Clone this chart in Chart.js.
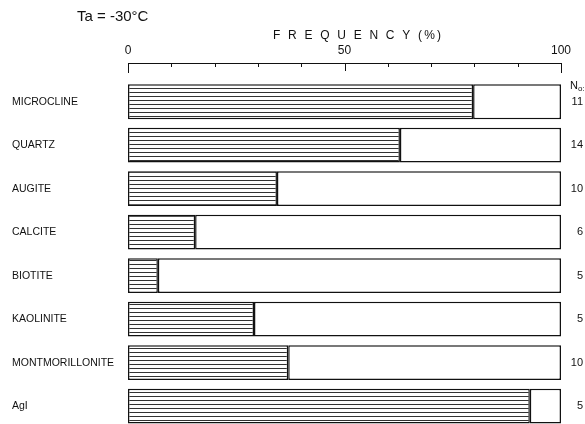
<!DOCTYPE html>
<html>
<head>
<meta charset="utf-8">
<script src="https://cdn.jsdelivr.net/npm/chart.js@4/dist/chart.umd.min.js"></script>
<style>
  html, body { margin: 0; padding: 0; background: #fff; overflow: hidden; }
  canvas { display: block; }
</style>
</head>
<body>
<canvas id="bar-chart" width="585" height="424"></canvas>
<script>
var minerali = ['MICROCLINE', 'QUARTZ', 'AUGITE', 'CALCITE', 'BIOTITE', 'KAOLINITE', 'MONTMORILLONITE', 'AgI'];
var frequenza = [79.7, 62.8, 34.4, 15.5, 6.9, 29.1, 37, 92.8];
var campioni = ['11', '14', '10', '6', '5', '5', '10', '5'];
var tickLabels = ['0', '50', '100'];

// barre su asse lineare (indice minerale), l'ultima esce dal bordo in basso
var parte = frequenza.map(function (v, i) { return { x: v, y: i }; });
var resto = frequenza.map(function (v, i) { return { x: 100 - v, y: i }; });

// tratteggio orizzontale
var pc = document.createElement('canvas');
pc.width = 8; pc.height = 4;
var pctx = pc.getContext('2d');
pctx.fillStyle = '#fff';
pctx.fillRect(0, 0, 8, 4);
pctx.fillStyle = '#333';
pctx.fillRect(0, 0, 8, 1);
var ctx = document.getElementById('bar-chart').getContext('2d');
var hatch = ctx.createPattern(pc, 'repeat');

var FONT = 'Liberation Sans, Arial, sans-serif';

function tickInteri(s) {
    s.ticks = minerali.map(function (m, i) { return { value: i }; });
}

var extra = {
    id: 'extra',
    afterDraw: function (chart) {
        var c = chart.ctx;
        var x = chart.scales.x;
        var axisY = chart.chartArea.top - 17;
        c.save();
        c.strokeStyle = '#111';
        c.lineWidth = 1;
        c.beginPath();
        c.moveTo(x.getPixelForValue(0), axisY + 0.5);
        c.lineTo(x.getPixelForValue(100), axisY + 0.5);
        for (var v = 0; v <= 100; v += 10) {
            var len = (v == 0 || v == 100) ? 10 : (v == 50 ? 8 : 4);
            var px = Math.round(x.getPixelForValue(v)) + 0.5;
            c.moveTo(px, axisY);
            c.lineTo(px, axisY + len);
        }
        c.stroke();

        c.fillStyle = '#111';
        c.textBaseline = 'middle';
        c.textAlign = 'left';
        c.font = '15px ' + FONT;
        c.fillText('Ta = -30°C', 77, 17);
        c.font = '12px ' + FONT;
        c.letterSpacing = '2.2px';
        c.fillText('F R E Q U E N C Y (%)', 273, 36);
        c.letterSpacing = '0px';

        c.font = '11px ' + FONT;
        c.fillText('N', 570, 86);
        c.font = '8px ' + FONT;
        c.fillText('o:', 578, 89);
        c.restore();
    }
};

var chart = new Chart(ctx, {
    type: 'bar',
    data: {
        datasets: [{
            label: 'frequenza',
            data: parte,
            backgroundColor: hatch,
            borderColor: '#111',
            borderWidth: 1.5,
            borderSkipped: false,
            clip: false
        }, {
            label: 'resto',
            data: resto,
            backgroundColor: '#fff',
            borderColor: '#111',
            borderWidth: 1.5,
            borderSkipped: false,
            clip: false
        }]
    },
    options: {
        indexAxis: 'y',
        responsive: false,
        animation: false,
        layout: { padding: { left: 12, right: 2, top: 0, bottom: 0 } },
        plugins: { legend: { display: false }, tooltip: { enabled: false } },
        datasets: { bar: { categoryPercentage: 0.8, barPercentage: 1 } },
        scales: {
            x: {
                type: 'linear',
                position: 'top',
                stacked: true,
                min: 0,
                max: 100,
                grid: { display: false, drawTicks: false },
                border: { display: false },
                ticks: {
                    stepSize: 10,
                    autoSkip: false,
                    maxRotation: 0,
                    padding: 22,
                    color: '#111',
                    font: { family: FONT, size: 12 },
                    callback: function (v) {
                        var i = [0, 50, 100].indexOf(v);
                        return i >= 0 ? tickLabels[i] : '';
                    }
                },
                afterFit: function (s) { s.height = 80; s.paddingLeft = 0; s.paddingRight = 0; }
            },
            y: {
                type: 'linear',
                stacked: true,
                reverse: true,
                offset: false,
                min: -0.5,
                max: 7.19,
                grid: { display: false, drawTicks: false, offset: false },
                border: { display: false },
                afterBuildTicks: tickInteri,
                ticks: {
                    autoSkip: false,
                    crossAlign: 'far',
                    color: '#111',
                    font: { family: FONT, size: 10.5 },
                    callback: function (v) { return minerali[v]; }
                },
                afterFit: function (s) { s.width = 116; }
            },
            y2: {
                type: 'linear',
                position: 'right',
                reverse: true,
                offset: false,
                min: -0.5,
                max: 7.19,
                grid: { display: false, drawTicks: false, offset: false },
                border: { display: false },
                afterBuildTicks: tickInteri,
                ticks: {
                    autoSkip: false,
                    crossAlign: 'far',
                    color: '#111',
                    font: { family: FONT, size: 11 },
                    callback: function (v) { return campioni[v]; }
                },
                afterFit: function (s) { s.width = 22; }
            }
        }
    },
    plugins: [extra]
});
</script>
</body>
</html>
